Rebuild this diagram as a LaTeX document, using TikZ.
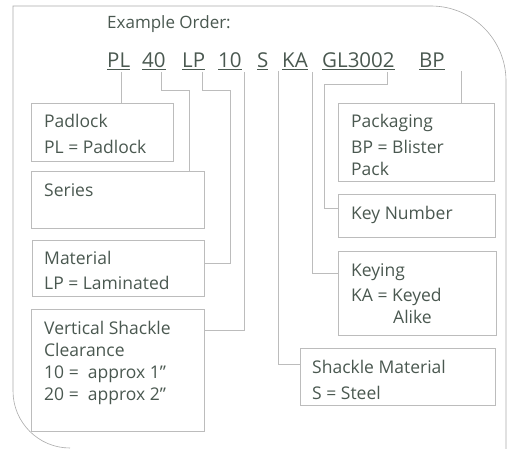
\documentclass[tikz,border=0pt]{standalone}
\usepackage{fontspec}
\setmainfont{Open Sans}
\usetikzlibrary{positioning}
\definecolor{ordertext}{RGB}{74,88,80}
\definecolor{orderline}{RGB}{188,188,188}
\definecolor{orderframe}{RGB}{170,170,170}

\tikzset{
  infobox/.style={draw=orderline, line width=0.9pt, anchor=north west, inner sep=0pt},
  infotext/.style={anchor=north west, align=left, inner sep=0pt, text=ordertext,
    font=\fontsize{17.5}{22}\selectfont},
  codepart/.style={anchor=base west, inner sep=0pt, text=ordertext,
    font=\fontsize{20.5}{22}\selectfont},
  link/.style={draw=orderline, line width=0.9pt},
}

\begin{document}
\begin{tikzpicture}[x=1pt,y=-1pt]
\useasboundingbox (0,0) rectangle (511,449);

% === Outer frame ===
\draw[orderframe, line width=0.6pt] (70,448) arc[start angle=90, end angle=180, radius=57]
  -- (13,6) -- (431,6) arc[start angle=270, end angle=360, radius=75] -- (506,455);

% === Example order code ===
\node[anchor=base west, inner sep=0pt, text=ordertext, font=\fontsize{17}{20}\selectfont]
  (title) at (107,29) {Example Order:};

\node[codepart] (cPL) at (107,68) {\underline{PL}};
\node[codepart] (c40) at (142,68) {\underline{40}};
\node[codepart] (cLP) at (182,68) {\underline{LP}};
\node[codepart] (c10) at (218,68) {\underline{10}};
\node[codepart] (cS) at (257,68) {\underline{S}};
\node[codepart] (cKA) at (282,68) {\underline{KA}};
\node[codepart] (cGL) at (322,68) {\underline{GL3002}};
\node[codepart] (cBP) at (419,68) {\underline{BP}};

% connector start points below the code
\coordinate (tPL) at (121,72);
\coordinate (t40) at (161,72);
\coordinate (tLP) at (202,72);
\coordinate (t10) at (244,72);
\coordinate (tS) at (278,71);
\coordinate (tKA) at (312,72);
\coordinate (tGL) at (387,72);
\coordinate (tBP) at (461,71);

% === Left column ===
\node[infobox, minimum width=142pt, minimum height=58pt] (padlock) at (31,103) {};
\node[infotext] (padlockT) at ([xshift=13pt,yshift=-11pt]padlock.north west)
  {Padlock\\[4pt]PL = Padlock};

\node[infobox, minimum width=173pt, minimum height=57pt] (series) at (31,171) {};
\node[infotext] (seriesT) at ([xshift=13pt,yshift=-12pt]series.north west) {Series};

\node[infobox, minimum width=172pt, minimum height=56pt] (material) at (32,240) {};
\node[infotext] (materialT) at ([xshift=12pt,yshift=-11pt]material.north west)
  {Material\\[3pt]LP = Laminated};

\node[infobox, minimum width=173pt, minimum height=122pt] (vsc) at (31,309) {};
\node[infotext] (vscT) at ([xshift=13pt,yshift=-12pt]vsc.north west)
  {Vertical Shackle\\Clearance\\10 =\ \ approx 1”\\20 =\ \ approx 2”};

% === Right column ===
\node[infobox, minimum width=156pt, minimum height=78pt] (packaging) at (338,103) {};
\node[infotext] (packagingT) at ([xshift=13pt,yshift=-11pt]packaging.north west)
  {Packaging\\[4pt]BP = Blister\\Pack};

\node[infobox, minimum width=157pt, minimum height=43pt] (keynum) at (338,194) {};
\node[infotext] (keynumT) at ([xshift=13pt,yshift=-12pt]keynum.north west) {Key Number};

\node[infobox, minimum width=158pt, minimum height=84pt] (keying) at (338,251) {};
\node[infotext] (keyingT) at ([xshift=13pt,yshift=-12pt]keying.north west)
  {Keying\\[3pt]KA = Keyed\\\hspace*{42pt}Alike};

\node[infobox, minimum width=195pt, minimum height=57pt] (shackle) at (300,348) {};
\node[infotext] (shackleT) at ([xshift=12pt,yshift=-12pt]shackle.north west)
  {Shackle Material\\[4pt]S = Steel};

% === Connectors ===
\draw[link] (tPL) -- (tPL |- padlock.north);
\draw[link] (t40) -- ++(0,18) -| ([xshift=-15pt]series.north east);
\draw[link] (tLP) -- ++(0,18) -- ++(28,0) |- ([yshift=-23pt]material.north east);
\draw[link] (t10) |- ([yshift=-21pt]vsc.north east);
\draw[link] (tS) |- ([yshift=-16pt]shackle.north west);
\draw[link] (tKA) |- ([yshift=-22pt]keying.north west);
\draw[link] (tGL) -- ++(0,12) -| ([yshift=-14pt]keynum.north west -| 324,0) |- ([yshift=-14pt]keynum.north west);
\draw[link] (tBP) -- (tBP |- packaging.north);

\end{tikzpicture}
\end{document}
